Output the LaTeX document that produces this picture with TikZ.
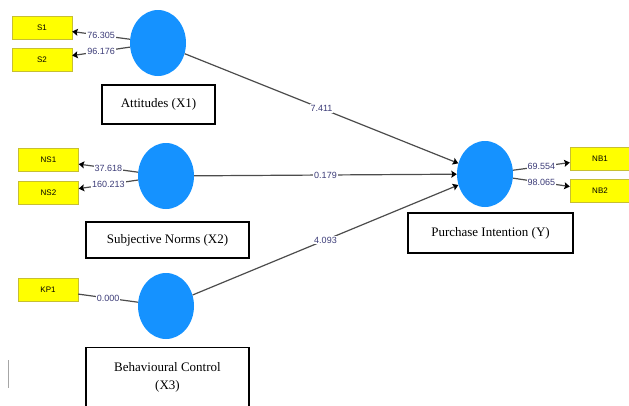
\documentclass[tikz,border=0pt]{standalone}
\usepackage{fontspec}
\setmainfont{Liberation Serif}
\newfontfamily\labelfont{Liberation Sans}
\usetikzlibrary{shapes.geometric, arrows.meta}
\definecolor{latentblue}{HTML}{1592FF}
\definecolor{indyellow}{HTML}{FFFF00}
\definecolor{numblue}{HTML}{3C3C78}

\begin{document}
\begin{tikzpicture}[x=1pt, y=-1pt,
		latent/.style={ellipse, fill=latentblue, minimum width=56pt, minimum height=66pt, inner sep=0pt},
		indicator/.style={rectangle, fill=indyellow, draw=yellow!75!black, minimum width=60pt, minimum height=23pt, font=\labelfont\fontsize{8}{9}\selectfont},
		construct/.style={rectangle, draw, line width=1.6pt, align=center, font=\fontsize{13}{18}\selectfont},
		link/.style={draw=black!70, line width=1.2pt},
		path/.style={link, -{Stealth[length=5.5pt, width=7pt, inset=1pt, black]}},
		weight/.style={fill=white, inner sep=1pt, text=numblue, font=\labelfont\fontsize{9}{10}\selectfont}]
		
		\useasboundingbox (0,0) rectangle (629,405);
		
		% latent variables
		\node[latent] (x1) at (158,43) {};
		\node[latent] (x2) at (166,176) {};
		\node[latent] (x3) at (166,306) {};
		\node[latent] (y) at (485,174) {};
		
		% indicators
		\node[indicator] (s1) at (42,27.5) {S1};
		\node[indicator] (s2) at (42,60) {S2};
		\node[indicator] (ns1) at (48.5,160) {NS1};
		\node[indicator] (ns2) at (48.5,193) {NS2};
		\node[indicator] (kp1) at (48,290) {KP1};
		\node[indicator] (nb1) at (600,158.5) {NB1};
		\node[indicator] (nb2) at (600,191) {NB2};
		
		% construct names
		\node[construct, minimum width=113pt, minimum height=39pt] (att) at (158.5,104.5) {Attitudes (X1)};
		\node[construct, minimum width=163pt, minimum height=36pt] (sn) at (167.5,240) {Subjective Norms (X2)};
		\node[construct, minimum width=163pt, minimum height=59pt] (bc) at (167.5,377) {Behavioural Control\\(X3)};
		\node[construct, minimum width=165pt, minimum height=40pt] (pi) at (490.5,233) {Purchase Intention (Y)};
		
		% outer loadings
		\draw[path] (x1) -- node[weight] {76.305} (s1);
		\draw[path] (x1) -- node[weight] {96.176} (s2);
		\draw[path] (x2) -- node[weight] {37.618} (ns1);
		\draw[path] (x2) -- node[weight] {160.213} (ns2);
		\draw[link] (x3) -- node[weight] {0.000} (kp1);
		\draw[path] (y) -- node[weight] {69.554} (nb1);
		\draw[path] (y) -- node[weight] {98.065} (nb2);
		
		% inner model
		\draw[path] (x1) -- node[weight] {7.411} (y);
		\draw[path] (x2) -- node[weight] {0.179} (y);
		\draw[path] (x3) -- node[weight] {4.093} (y);
		
		\draw[black!35] (8,360) -- (8,388);
	\end{tikzpicture}
\end{document}
